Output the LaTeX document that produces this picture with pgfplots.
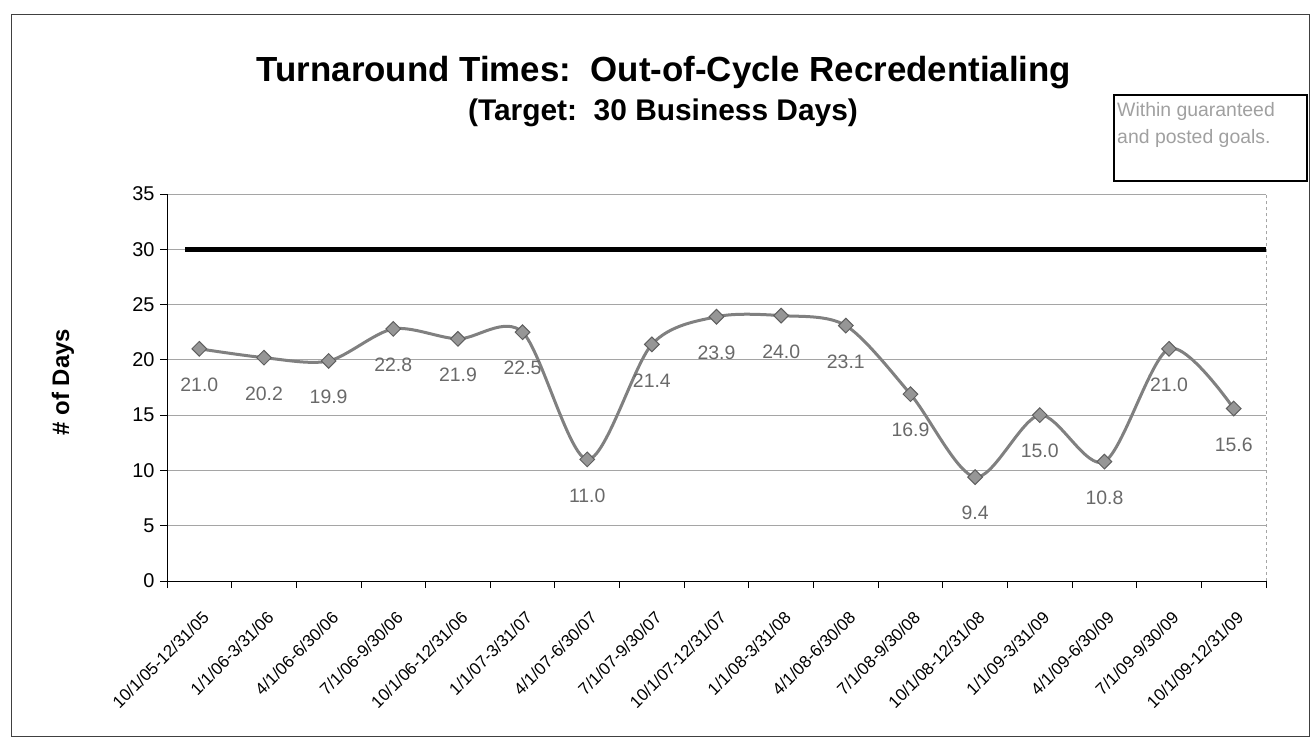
\documentclass[border=0pt]{standalone}
\usepackage{fontspec}
\setmainfont{Liberation Sans}
\usepackage{pgfplots}
\pgfplotsset{compat=1.18}
\definecolor{serline}{RGB}{128,128,128}
\definecolor{mkfill}{RGB}{150,150,150}
\definecolor{mkdraw}{RGB}{95,95,95}
\definecolor{lbl}{RGB}{105,105,105}
\definecolor{gridc}{RGB}{165,165,165}
\definecolor{boxtxt}{RGB}{160,160,160}

\pgfplotstableread{
x y
1 21.0
2 20.2
3 19.9
4 22.8
5 21.9
6 22.5
7 11.0
8 21.4
9 23.9
10 24.0
11 23.1
12 16.9
13 9.4
14 15.0
15 10.8
16 21.0
17 15.6
}\daystable

\pgfplotstableread{
x y
0.78 30
17.5 30
}\targettable

\begin{document}
\begin{tikzpicture}[x=1bp,y=1bp]
% outer frame
\draw[black!75, line width=0.8bp] (11,-14) rectangle (1309,-736);

\node[font=\fontsize{35}{40}\selectfont\bfseries, anchor=base] at (664,-81)
  {Turnaround Times:\ \ Out-of-Cycle Recredentialing};
\node[font=\fontsize{30}{34}\selectfont\bfseries, anchor=base] at (663,-120)
  {(Target:\ \ 30 Business Days)};

% note box
\draw[black, line width=1.5bp] (1114,-95) rectangle (1307,-181);
\node[font=\fontsize{19.5}{27}\selectfont, text=boxtxt, anchor=north west, align=left,
  inner sep=0pt] at (1117,-102) {Within guaranteed\\and posted goals.};

\node[font=\fontsize{24}{28}\selectfont\bfseries, rotate=90] at (63,-382) {\# of Days};

\begin{axis}[
  at={(167bp,-581bp)}, anchor=south west,
  scale only axis,
  width=1099bp, height=387bp,
  xmin=0.5, xmax=17.5,
  ymin=0, ymax=35,
  ytick={0,5,...,35},
  xtick={1,...,17},
  xticklabels={10/1/05-12/31/05,1/1/06-3/31/06,4/1/06-6/30/06,7/1/06-9/30/06,
    10/1/06-12/31/06,1/1/07-3/31/07,4/1/07-6/30/07,7/1/07-9/30/07,
    10/1/07-12/31/07,1/1/08-3/31/08,4/1/08-6/30/08,7/1/08-9/30/08,
    10/1/08-12/31/08,1/1/09-3/31/09,4/1/09-6/30/09,7/1/09-9/30/09,
    10/1/09-12/31/09},
  minor xtick={0.5,1.5,...,17.5},
  major x tick style={draw=none},
  minor tick length=7bp,
  major tick length=7bp,
  tick align=outside,
  xtick pos=bottom, ytick pos=left,
  axis x line*=bottom, axis y line*=left,
  axis line style={black, line width=1bp},
  tick style={black, line width=0.8bp},
  ymajorgrids,
  grid style={gridc, line width=0.8bp},
  /pgf/number format/assume math mode=true,
  x tick label style={rotate=45, anchor=north east, font=\fontsize{17}{20}\selectfont,
    inner sep=1bp, xshift=-13bp, yshift=-16bp},
  y tick label style={font=\fontsize{20}{23}\selectfont, xshift=-2bp},
  clip=false,
]
\draw[gridc, dashed, line width=0.8bp] (rel axis cs:1,0) -- (rel axis cs:1,1);
\addplot[black, line width=5bp] table[x=x, y=y] {\targettable};
\addplot[serline, line width=3bp, smooth, tension=0.5,
  mark=square*, mark size=5.2bp,
  mark options={rotate=45, fill=mkfill, draw=mkdraw, line width=1bp},
  nodes near coords={\pgfmathprintnumber[fixed,fixed zerofill,precision=1]{\pgfplotspointmeta}},
  point meta=y,
  every node near coord/.style={anchor=center, yshift=-36bp, text=lbl,
    font=\fontsize{19.5}{22}\selectfont}]
  table[x=x, y=y] {\daystable};
\end{axis}

\pgfresetboundingbox
\path (0,0) rectangle (1314,-751);
\end{tikzpicture}
\end{document}
